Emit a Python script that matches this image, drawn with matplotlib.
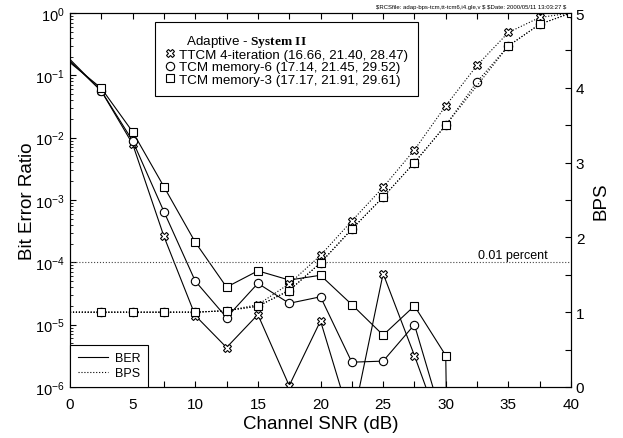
import matplotlib
matplotlib.use('Agg')
import matplotlib.pyplot as plt
from matplotlib.lines import Line2D
from matplotlib.ticker import MultipleLocator, LogLocator, NullFormatter
import numpy as np

plt.rcParams['font.family'] = ['Liberation Sans', 'DejaVu Sans']
plt.rcParams['mathtext.fontset'] = 'custom'
plt.rcParams['mathtext.rm'] = 'Liberation Sans'
plt.rcParams['mathtext.it'] = 'Liberation Sans:italic'
plt.rcParams['mathtext.bf'] = 'Liberation Serif:bold'

# channel SNR (dB)
snr = [0, 2.5, 5, 7.5, 10, 12.5, 15, 17.5, 20, 22.5, 25, 27.5, 30, 32.5, 35, 37.5, 40]

# bit error ratio (points below 1e-6 fall off the plot, as in the original)
ber_ttcm4 = [0.18, 0.056, 0.0079, 2.6e-4, 1.4e-5, 4.3e-6, 1.45e-5, 1.05e-6, 1.15e-5,
             2.5e-7, 6.6e-5, 3.2e-6, 1.3e-7]
ber_tcm6 = [0.17, 0.056, 0.0089, 6.5e-4, 5.0e-5, 1.3e-5, 4.6e-5, 2.2e-5, 2.8e-5,
            2.5e-6, 2.6e-6, 1.0e-5, 2.0e-7]
ber_tcm3 = [0.16, 0.062, 0.0124, 1.63e-3, 2.1e-4, 4.0e-5, 7.3e-5, 5.2e-5, 6.2e-5,
            2.1e-5, 6.8e-6, 2.0e-5, 3.2e-6, 1e-40]

# bits per symbol
bps_ttcm4 = [1, 1, 1, 1, 1, 1.02, 1.1, 1.38, 1.76, 2.22, 2.67, 3.17, 3.76, 4.30, 4.74, 4.94, 5.0]
bps_tcm6 = [1, 1, 1, 1, 1, 1.02, 1.08, 1.29, 1.66, 2.11, 2.54, 3.00, 3.50, 4.08, 4.56, 4.85, 5.0]
snr_tcm3 = [0, 2.5, 5, 7.5, 10, 12.5, 15, 17.5, 20, 22.5, 25, 27.5, 30, 35, 37.5, 40]
bps_tcm3 = [1, 1, 1, 1, 1, 1.02, 1.08, 1.29, 1.66, 2.11, 2.54, 3.00, 3.50, 4.56, 4.85, 5.0]

labels = ['TTCM 4-iteration (16.66, 21.40, 28.47)',
          'TCM memory-6 (17.14, 21.45, 29.52)',
          'TCM memory-3 (17.17, 21.91, 29.61)']
markers = ['X', 'o', 's']

fig = plt.figure(figsize=(6.23, 4.39), dpi=100)
ax = fig.add_axes([0.1124, 0.1162, 0.8041, 0.8519])
ax2 = ax.twinx()

mk = dict(ms=6, mfc='white', mec='black', mew=0.8, markevery=slice(1, None))

ber_sets = [ber_ttcm4, ber_tcm6, ber_tcm3]
for b, m in zip(ber_sets, markers):
    ax.plot(snr[:len(b)], b, color='black', ls='-', lw=0.8, marker=m, **mk)

bps_sets = [(snr, bps_ttcm4), (snr, bps_tcm6), (snr_tcm3, bps_tcm3)]
for (x, b), m in zip(bps_sets, markers):
    ax2.plot(x, b, color='black', ls=':', lw=0.8, marker=m, **mk)

ax.axhline(1e-4, color='#444444', ls=':', lw=0.8)
ax.text(38.15, 1.32e-4, '0.01 percent', ha='right', va='center', fontsize=9)

ax.set_yscale('log')
ax.set_xlim(0, 40)
ax.set_ylim(1e-6, 1)
ax2.set_ylim(0, 5)

ax.xaxis.set_major_locator(MultipleLocator(5))
ax.xaxis.set_minor_locator(MultipleLocator(2.5))
ax.yaxis.set_major_locator(LogLocator(base=10, numticks=10))
ax.yaxis.set_minor_locator(LogLocator(base=10, subs=np.arange(2, 10), numticks=10))
ax.yaxis.set_minor_formatter(NullFormatter())
ax2.yaxis.set_major_locator(MultipleLocator(1))
ax2.yaxis.set_minor_locator(MultipleLocator(0.5))

ax.tick_params(axis='x', which='both', direction='in', top=True, length=4, width=0.8, labelsize=11, pad=7)
ax.tick_params(axis='y', which='major', direction='in', length=4, width=0.8, labelsize=10.5, right=False, pad=4)
ax.tick_params(axis='y', which='minor', direction='in', length=2, width=0.6, right=False)
ax2.tick_params(axis='y', which='both', direction='in', length=4, width=0.8, labelsize=11)

for a in (ax, ax2):
    for s in a.spines.values():
        s.set_linewidth(0.8)

ax.set_xlabel('Channel SNR (dB)', fontsize=13.5, labelpad=3)
ax.set_ylabel('Bit Error Ratio', fontsize=13.5, labelpad=-1)
ax2.set_ylabel('BPS', fontsize=13.5, labelpad=6)

# system legend
h = [Line2D([], [], ls='none')]
lab = ['  Adaptive - $\\mathbf{System\\ II}$']
for m, l in zip(markers, labels):
    h.append(Line2D([], [], ls='none', marker=m, ms=6, mfc='white', mec='black', mew=0.8))
    lab.append(l)
leg1 = ax2.legend(h, lab, loc='upper left', bbox_to_anchor=(0.170, 0.976), borderaxespad=0,
                  fancybox=False, edgecolor='black', framealpha=1, fontsize=9.6,
                  handlelength=0.6, handletextpad=0.35, labelspacing=0.0, borderpad=0.8)
leg1.get_frame().set_linewidth(0.8)
ax2.add_artist(leg1)

# line style legend
h2 = [Line2D([], [], color='black', ls='-', lw=0.8), Line2D([], [], color='black', ls=':', lw=0.8)]
leg2 = ax2.legend(h2, ['BER', 'BPS'], loc='lower left', borderaxespad=0, fancybox=False,
                  edgecolor='black', framealpha=1, fontsize=9, handlelength=2.4,
                  handletextpad=0.6, labelspacing=0.25, borderpad=0.6)
leg2.get_frame().set_linewidth(0.8)

fig.text(0.9085, 0.984, '$RCSfile: adap-bps-tcm,tt-tcm6,i4.gle,v $ $Date: 2000/05/11 13:03:27 $',
         fontsize=4.3, ha='right', va='center', parse_math=False)

fig.savefig('out.png', dpi=100)
